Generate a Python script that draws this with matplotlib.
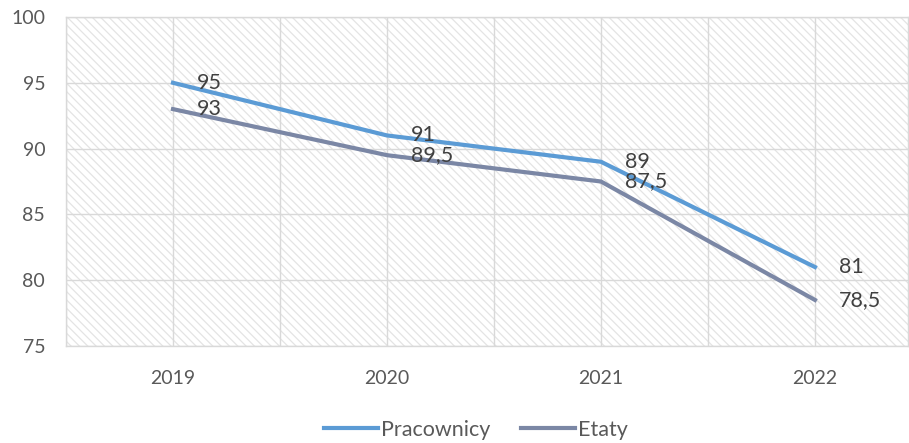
import matplotlib.pyplot as plt
from matplotlib.ticker import MultipleLocator, FixedLocator

years = ["2019", "2020", "2021", "2022"]
pracownicy = [95, 91, 89, 81]
etaty = [93, 89.5, 87.5, 78.5]
series_names = ["Pracownicy", "Etaty"]

plt.rcParams['font.family'] = ['Lato', 'DejaVu Sans']
plt.rcParams['hatch.linewidth'] = 0.9

fig = plt.figure(figsize=(9.09, 4.43), dpi=100)
ax = fig.add_axes([66 / 909, 1 - 346 / 443, 842 / 909, 329 / 443])

x = list(range(len(years)))
ax.set_xlim(-0.5, 3.435)
ax.set_ylim(75, 100)

# hatched background
ax.add_patch(plt.Rectangle((0, 0), 1, 1, transform=ax.transAxes, facecolor='white',
                           edgecolor='#e4e4e4', linewidth=0, hatch='\\\\\\\\', zorder=0))

ax.yaxis.set_major_locator(MultipleLocator(5))
ax.set_xticks(x)
ax.set_xticklabels(years)
ax.xaxis.set_minor_locator(FixedLocator([-0.5, 0.5, 1.5, 2.5, 3.5]))
ax.grid(True, which='both', axis='x', color='#d9d9d9', linewidth=1.0, zorder=1)
ax.grid(True, which='major', axis='y', color='#d9d9d9', linewidth=1.0, zorder=1)
ax.set_axisbelow(True)

for s in ax.spines.values():
    s.set_color('#d9d9d9')
    s.set_linewidth(1.0)

ax.tick_params(axis='both', which='both', length=0, labelsize=14, labelcolor='#595959')
ax.tick_params(axis='y', pad=15)
ax.tick_params(axis='x', pad=17)

l1, = ax.plot(x, pracownicy, color='#5b9bd5', linewidth=3, solid_joinstyle='miter', zorder=3)
l2, = ax.plot(x, etaty, color='#7b87a5', linewidth=3, solid_joinstyle='miter', zorder=3)

for vals in (pracownicy, etaty):
    for xi, v in zip(x, vals):
        ax.annotate(f"{v:g}".replace('.', ','), (xi, v), xytext=(17, 0),
                    textcoords='offset points', va='center', ha='left',
                    fontsize=15.5, color='#404040', zorder=4)

fig.legend([l1, l2], series_names, loc='center', bbox_to_anchor=(476 / 909, 1 - 430 / 443),
           ncol=2, frameon=False, fontsize=15.5, labelcolor='#595959',
           handlelength=2.5, handletextpad=0.15, columnspacing=1.4)

fig.savefig('out.png', dpi=100)
